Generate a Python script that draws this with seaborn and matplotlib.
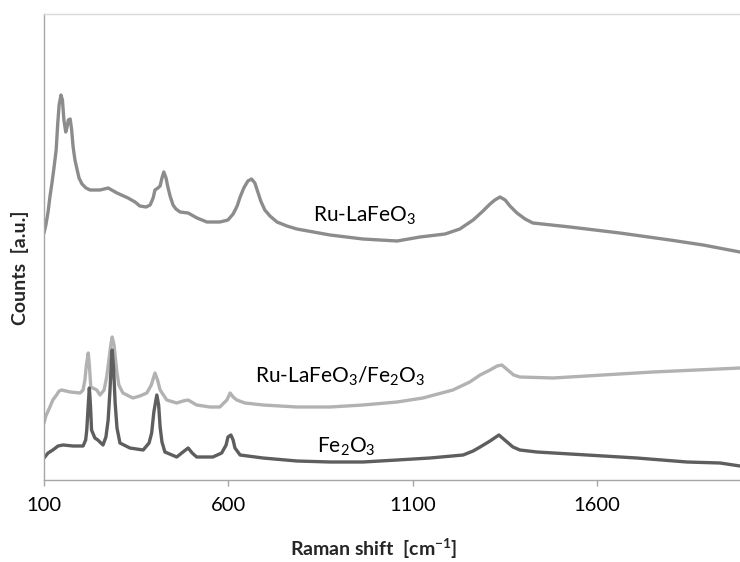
import matplotlib
matplotlib.use("Agg")
import matplotlib.pyplot as plt
import seaborn as sns
import pandas as pd

# ---------------- data ----------------
# Raman shift [cm-1] and counts [a.u.] for each spectrum
ru_x = [100, 105, 111, 116, 122, 127, 133, 137, 141, 146, 150, 154, 159, 162, 166,
        171, 175, 179, 184, 190, 195, 203, 214, 225, 252, 274, 298, 328, 347, 360,
        377, 388, 396, 401, 409, 415, 420, 425, 431, 436, 442, 450, 458, 469, 491,
        515, 542, 577, 599, 613, 624, 632, 642, 653, 663, 672, 680, 688, 699, 713,
        732, 759, 786, 876, 965, 1058, 1120, 1188, 1228, 1264, 1288, 1310, 1323,
        1337, 1351, 1364, 1383, 1405, 1426, 1527, 1662, 1798, 1888, 1988]
ru_y = [247, 255, 268, 283, 298, 312, 330, 355, 375, 385, 380, 360, 348, 352, 360,
        361, 350, 333, 320, 310, 302, 296, 292, 290, 290, 292, 287, 282, 278, 274,
        273, 275, 282, 290, 292, 294, 302, 308, 302, 293, 284, 275, 271, 268, 267,
        262, 258, 258, 260, 266, 274, 283, 292, 299, 301, 297, 288, 279, 270, 264,
        258, 254, 251, 245, 241, 239, 243, 246, 251, 260, 268, 276, 280,
        283, 280, 274, 267, 261, 257, 253, 247, 240, 235, 228]

mix_x = [100, 105, 116, 124, 134, 141, 148, 171, 198, 206, 211, 215, 220, 223, 227,
         243, 252, 263, 270, 276, 282, 285, 290, 297, 303, 314, 341, 360, 379, 391,
         401, 408, 415, 433, 460, 477, 491, 514, 550, 577, 596, 605, 613, 623, 645,
         694, 786, 876, 965, 1058, 1128, 1209, 1255, 1283, 1310, 1329, 1342, 1358,
         1374, 1391, 1481, 1616, 1752, 1871, 1988]
mix_y = [57, 64, 73, 80, 85, 89, 90, 88, 87, 90, 100, 115, 127, 115, 93,
         90, 85, 90, 103, 120, 137, 143, 135, 110, 95, 87, 82, 84, 87, 95,
         107, 100, 90, 80, 77, 79, 80, 75, 73, 73, 80, 87, 83, 80, 77,
         75, 73, 73, 75, 78, 82, 90, 98, 105, 110, 114, 115, 110,
         105, 103, 102, 105, 108, 110, 112]

fe_x = [100, 111, 124, 138, 152, 179, 206, 213, 216, 220, 223, 226, 229, 238, 246,
        260, 268, 274, 279, 283, 285, 289, 293, 298, 306, 333, 369, 385, 392, 398,
        406, 411, 415, 420, 428, 460, 477, 491, 502, 514, 558, 582, 594, 599, 607,
        613, 618, 632, 694, 786, 876, 965, 1058, 1147, 1237, 1264, 1283, 1310,
        1334, 1353, 1372, 1391, 1437, 1573, 1708, 1844, 1934, 1988]
fe_y = [22, 27, 30, 34, 35, 34, 34, 40, 50, 75, 92, 75, 50, 42, 40,
        35, 43, 60, 90, 120, 130, 110, 77, 52, 37, 32, 30, 37, 47, 68,
        85, 75, 53, 38, 28, 23, 28, 32, 27, 23, 23, 27, 35, 43, 45,
        40, 32, 25, 22, 19, 18, 18, 20, 22, 25, 29, 33, 39,
        45, 39, 33, 30, 28, 25, 22, 18, 17, 14]

series_names = ["Ru-LaFeO3", "Ru-LaFeO3/Fe2O3", "Fe2O3"]
series_colors = ["#8c8c8c", "#b2b2b2", "#5e5e5e"]
label_texts = [r"Ru-LaFeO$_3$", r"Ru-LaFeO$_3$/Fe$_2$O$_3$", r"Fe$_2$O$_3$"]
label_pos = [(830, 258), (672, 97), (841, 27)]
x_ticks = [100, 600, 1100, 1600]

# ---------------- style ----------------
sns.set_style("white")
plt.rcParams["font.family"] = ["Lato", "DejaVu Sans"]
plt.rcParams["mathtext.fontset"] = "custom"
plt.rcParams["mathtext.rm"] = "Lato"
plt.rcParams["mathtext.it"] = "Lato:italic"
plt.rcParams["mathtext.bf"] = "Lato:bold"
plt.rcParams["mathtext.default"] = "regular"

frames = []
for name, xs, ys in zip(series_names, [ru_x, mix_x, fe_x], [ru_y, mix_y, fe_y]):
    frames.append(pd.DataFrame({"shift": xs, "counts": ys, "sample": name}))
df = pd.concat(frames, ignore_index=True)

fig = plt.figure(figsize=(7.40, 5.62), dpi=100)
ax = fig.add_axes([44 / 740, (562 - 480) / 562, (740 - 44) / 740, (480 - 14) / 562])

sns.lineplot(data=df, x="shift", y="counts", hue="sample", hue_order=series_names,
             palette=dict(zip(series_names, series_colors)), sort=False,
             estimator=None, legend=False, linewidth=2.4, ax=ax)
for line in ax.get_lines():
    line.set_solid_joinstyle("round")

ax.set_xlim(100, 1988)
ax.set_ylim(0, 466)
ax.set_xticks(x_ticks)
ax.set_xticklabels([str(t) for t in x_ticks])
ax.set_yticks([])
ax.set_xlabel("")
ax.set_ylabel("")
ax.tick_params(axis="x", which="major", direction="out", length=4, width=1,
               color="#a6a6a6", labelsize=14.5, pad=8, labelcolor="#000000", bottom=True)

for side in ["left", "bottom"]:
    ax.spines[side].set_color("#a6a6a6")
    ax.spines[side].set_linewidth(1.0)
ax.spines["top"].set_color("#d9d9d9")
ax.spines["top"].set_linewidth(1.0)
ax.spines["right"].set_visible(False)

for txt, (lx, ly) in zip(label_texts, label_pos):
    ax.text(lx, ly, txt, fontsize=15, ha="left", va="baseline", color="#000000")

fig.text(374 / 740, 1 - 549 / 562, r"Raman shift  [cm$^{\mathbf{-1}}$]", fontsize=14,
         fontweight="bold", ha="center", va="center")
fig.text(20 / 740, 1 - 268 / 562, "Counts  [a.u.]", fontsize=14, fontweight="bold",
         ha="center", va="center", rotation=90)

fig.savefig("out.png", dpi=100)
